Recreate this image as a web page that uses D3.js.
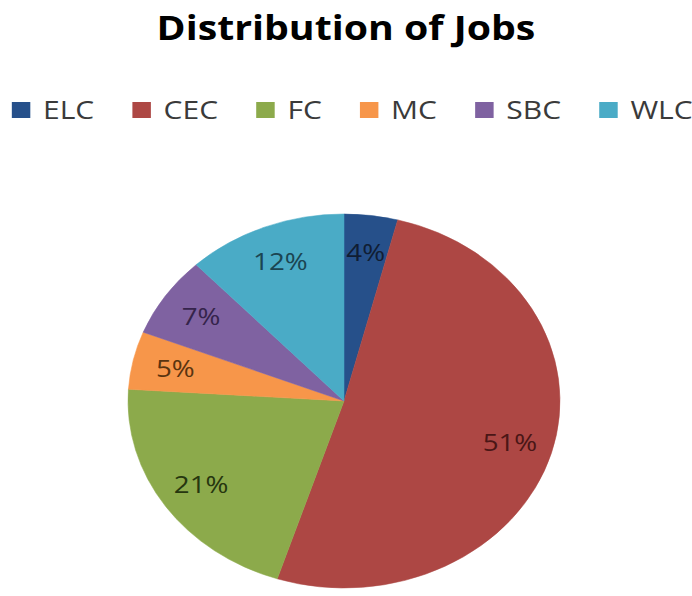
<!DOCTYPE html>
<html>
<head>
<meta charset="utf-8">
<script src="https://cdn.jsdelivr.net/npm/d3@7"></script>
<style>
  html, body { margin: 0; padding: 0; background: #ffffff; }
  svg { display: block; }
</style>
</head>
<body>
<svg id="chart" width="692" height="596"></svg>
<script>
// Job distribution by category
const categories = ["ELC", "CEC", "FC", "MC", "SBC", "WLC"];
const shares = [4, 51, 21, 5, 7, 12];
const sliceColors = ["#26508a", "#ad4744", "#8caa4b", "#f7964a", "#7f62a1", "#4aabc6"];
const labelColors = ["#101d33", "#4a1616", "#26360f", "#5a3410", "#35244b", "#1b4552"];
const title = "Distribution of Jobs";

const W = 692, H = 596;
const stretch = 1.155;            // horizontal stretch applied to the whole drawing
const innerW = W / stretch;
const font = "'Open Sans', 'DejaVu Sans', sans-serif";

const svg = d3.select("#chart");
const root = svg.append("g").attr("transform", `scale(${stretch},1)`);

// Title
root.append("text")
  .attr("x", innerW / 2)
  .attr("y", 40)
  .attr("text-anchor", "middle")
  .attr("font-family", font)
  .attr("font-weight", "bold")
  .attr("font-size", 34)
  .attr("fill", "#000")
  .text(title);

// Legend laid out left to right from measured text widths
const legend = root.append("g");
const sq = 16, gapText = 11, gapItem = 33, legendFont = 26;
const items = legend.selectAll("g.item").data(categories).join("g").attr("class", "item");
items.append("rect")
  .attr("width", sq).attr("height", sq)
  .attr("y", 102)
  .attr("fill", (d, i) => sliceColors[i]);
items.append("text")
  .attr("x", sq + gapText)
  .attr("y", 119)
  .attr("font-family", font)
  .attr("font-size", legendFont)
  .attr("fill", "#3a3a3a")
  .text(d => d);
let cursor = 0;
const offsets = [];
items.each(function () {
  const w = d3.select(this).select("text").node().getComputedTextLength();
  offsets.push(cursor);
  cursor += sq + gapText + w + gapItem;
});
const legendW = cursor - gapItem;
const legendX = 305 - legendW / 2;
items.attr("transform", (d, i) => `translate(${legendX + offsets[i]},0)`);

// Pie
const R = 187;
const cx = 344 / stretch, cy = 401;
const pie = d3.pie().sort(null).value(d => d.v).startAngle(0).endAngle(2 * Math.PI);
const data = pie(categories.map((c, i) => ({ c, v: shares[i], i })));
const arc = d3.arc().innerRadius(0).outerRadius(R);
const labelArc = d3.arc().innerRadius(R * 0.8).outerRadius(R * 0.8);

const g = root.append("g").attr("transform", `translate(${cx},${cy})`);
g.selectAll("path").data(data).join("path")
  .attr("d", arc)
  .attr("fill", d => sliceColors[d.data.i])
  .attr("stroke", d => sliceColors[d.data.i])
  .attr("stroke-width", 0.5);

g.selectAll("text").data(data).join("text")
  .attr("transform", d => `translate(${labelArc.centroid(d)})`)
  .attr("text-anchor", "middle")
  .attr("dy", "0.35em")
  .attr("font-family", font)
  .attr("font-size", 24)
  .attr("fill", d => labelColors[d.data.i])
  .text(d => d.data.v + "%");
</script>
</body>
</html>
